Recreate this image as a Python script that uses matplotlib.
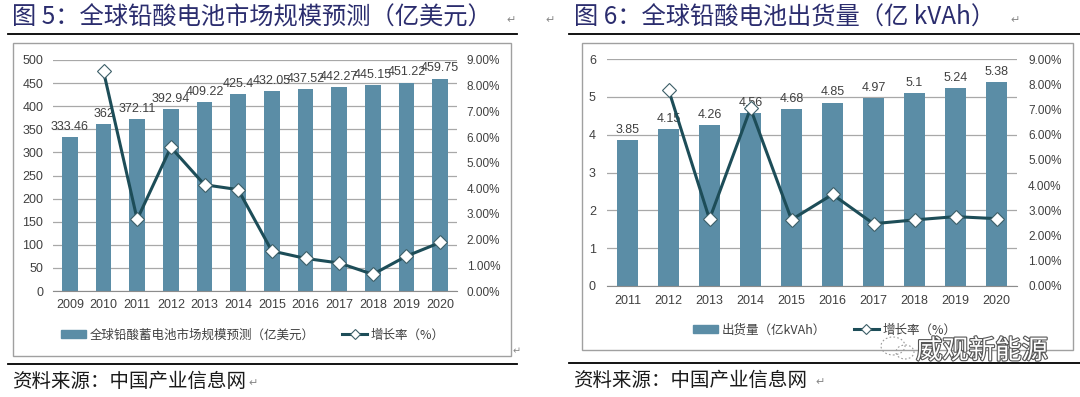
import numpy as np
import matplotlib
matplotlib.use('Agg')
import matplotlib.pyplot as plt
from matplotlib.patches import Rectangle, Ellipse
from matplotlib.lines import Line2D
import matplotlib.patheffects as pe

plt.rcParams['font.family'] = ['Liberation Sans', 'Noto Sans CJK SC', 'DejaVu Sans']

# data
years_5 = ['2009', '2010', '2011', '2012', '2013', '2014', '2015', '2016', '2017', '2018', '2019', '2020']
market = [333.46, 362, 372.11, 392.94, 409.22, 425.4, 432.05, 437.52, 442.27, 445.15, 451.22, 459.75]
market_growth = [np.nan, 8.56, 2.79, 5.60, 4.14, 3.95, 1.56, 1.27, 1.09, 0.65, 1.36, 1.89]

years_6 = ['2011', '2012', '2013', '2014', '2015', '2016', '2017', '2018', '2019', '2020']
shipment = [3.85, 4.15, 4.26, 4.56, 4.68, 4.85, 4.97, 5.1, 5.24, 5.38]
shipment_growth = [np.nan, 7.79, 2.65, 7.04, 2.63, 3.63, 2.47, 2.62, 2.75, 2.67]

title_5 = '图 5：全球铅酸电池市场规模预测（亿美元）'
title_6 = '图 6：全球铅酸电池出货量（亿 kVAh）'
legend_5 = ['全球铅酸蓄电池市场规模预测（亿美元）', '增长率（%）']
legend_6 = ['出货量（亿kVAh）', '增长率（%）']
source = '资料来源：中国产业信息网'

W, H = 1080, 397
BAR = '#5b8da6'
LINE = '#1d4d58'
GRID = '#a8a8a8'
TXT = '#404040'
TITLE = '#2b2d6e'
CJK = ['Noto Sans CJK SC', 'DejaVu Sans']

fig = plt.figure(figsize=(W / 100, H / 100), dpi=100)
fig.patch.set_facecolor('white')


def px_rect(x0, y0, x1, y1):
    # pixel box -> figure fraction [l, b, w, h]
    return [x0 / W, 1 - y1 / H, (x1 - x0) / W, (y1 - y0) / H]


def hline(x0, x1, y, lw=1.3, color='black'):
    fig.add_artist(Line2D([x0 / W, x1 / W], [1 - y / H, 1 - y / H],
                          transform=fig.transFigure, color=color, lw=lw))


def box(x0, y0, x1, y1):
    l, b, w, h = px_rect(x0, y0, x1, y1)
    fig.add_artist(Rectangle((l, b), w, h, transform=fig.transFigure,
                             fill=False, ec='#a0a0a0', lw=1.0))


def chart(rect, years, vals, growth, ymax, ystep, bar_w, lpad, xpad):
    ax = fig.add_axes(rect)
    x = np.arange(len(years))
    ax.bar(x, vals, width=bar_w, color=BAR, zorder=2)
    for xi, v in zip(x, vals):
        ax.annotate(f'{v:g}', (xi, v), xytext=(0, 3), textcoords='offset points',
                    ha='center', va='bottom', fontsize=9, color=TXT, zorder=3)
    ax.set_xlim(-0.5, len(years) - 0.5)
    ax.set_ylim(0, ymax)
    ax.set_yticks(np.arange(0, ymax + ystep / 2, ystep))
    ax.set_xticks(x)
    ax.set_xticklabels(years)
    ax.yaxis.grid(True, color=GRID, lw=0.9)
    ax.set_axisbelow(True)
    for s in ['top', 'left', 'right']:
        ax.spines[s].set_visible(False)
    ax.spines['bottom'].set_color('#8c8c8c')
    ax.tick_params(axis='y', length=0, labelsize=9, colors=TXT, pad=lpad)
    ax.tick_params(axis='x', length=0, labelsize=9, colors=TXT, pad=xpad)

    ax2 = ax.twinx()
    ax2.plot(x, growth, color=LINE, lw=2.2, marker='D', ms=7,
             mfc='white', mec='#3d5f68', mew=0.8, zorder=5)
    ax2.set_ylim(0, 9)
    ax2.set_yticks(np.arange(0, 10))
    ax2.set_yticklabels([f'{t:.2f}%' for t in range(10)])
    for s in ax2.spines.values():
        s.set_visible(False)
    ax2.tick_params(axis='y', length=0, labelsize=8.5, colors=TXT, pad=lpad)
    return ax


def legend(labels, cx, cy):
    handles = [Rectangle((0, 0), 1, 1, color=BAR),
               Line2D([], [], color=LINE, lw=2.2, marker='D', ms=5.5,
                      mfc='white', mec='#3d5f68', mew=0.8)]
    fig.legend(handles, labels, loc='center', bbox_to_anchor=(cx / W, 1 - cy / H),
               ncol=2, frameon=False, handlelength=2.0, handleheight=0.55,
               handletextpad=0.3, columnspacing=2.2, labelcolor=TXT,
               prop={'family': CJK, 'size': 9})


# ---- 图 5 ----
fig.text(12 / W, 1 - 18 / H, title_5, fontsize=17.5, color=TITLE, va='center', ha='left', family=CJK)
fig.text(506 / W, 1 - 20 / H, '↵', fontsize=8, color='#888888', va='center', family=CJK)
hline(8, 517, 34)
box(13, 43, 511, 356)
chart(px_rect(53, 60, 457, 291), years_5, market, market_growth, 500, 50, 0.47, 7, 6)
legend(legend_5, 253, 335)
fig.text(513 / W, 1 - 351 / H, '↵', fontsize=7, color='#888888', va='center', family=CJK)
hline(8, 517, 364)
fig.text(12 / W, 1 - 381 / H, source, fontsize=14, color='#1a1a1a', va='center', ha='left', family=CJK)
fig.text(248 / W, 1 - 383 / H, '↵', fontsize=8, color='#888888', va='center', family=CJK)

# ---- 图 6 ----
fig.text(545 / W, 1 - 20 / H, '↵', fontsize=8, color='#888888', va='center', family=CJK)
fig.text(574 / W, 1 - 18 / H, title_6, fontsize=17.5, color=TITLE, va='center', ha='left', family=CJK)
fig.text(1010 / W, 1 - 20 / H, '↵', fontsize=8, color='#888888', va='center', family=CJK)
hline(569, 1080, 34)
box(582, 43, 1073, 350)
chart(px_rect(607, 59, 1017, 286), years_6, shipment, shipment_growth, 6, 1, 0.51, 8, 6.5)
legend(legend_6, 825, 330)
hline(569, 1080, 363)
fig.text(573 / W, 1 - 380 / H, source, fontsize=14, color='#1a1a1a', va='center', ha='left', family=CJK)
fig.text(815 / W, 1 - 382 / H, '↵', fontsize=8, color='#888888', va='center', family=CJK)

# watermark: faint wechat-style icon + name
for cx, cy, w, h in [(893, 346, 24, 18), (905, 352, 18, 14)]:
    l, b, ww, hh = px_rect(cx - w / 2, cy - h / 2, cx + w / 2, cy + h / 2)
    fig.add_artist(Ellipse((l + ww / 2, b + hh / 2), ww, hh, transform=fig.transFigure,
                           fill=False, ec='#9a9a9a', lw=0.8, ls=(0, (1.5, 2))))
fig.text(916 / W, 1 - 351 / H, '威观新能源', fontsize=19, color='white', va='center', ha='left',
         family=CJK, path_effects=[pe.withStroke(linewidth=1.6, foreground='#555555')])

fig.savefig('out.png', dpi=100)
